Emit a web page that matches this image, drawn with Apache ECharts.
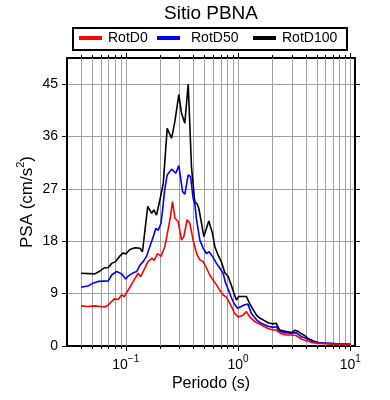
<!DOCTYPE html>
<html><head><meta charset="utf-8">
<script src="https://cdn.jsdelivr.net/npm/echarts@6/dist/echarts.min.js"></script>
<style>html,body{margin:0;padding:0;background:#fff}#c{width:390px;height:400px}</style>
</head><body><div id="c"></div>
<script>
const seriesNames = ['RotD0', 'RotD50', 'RotD100'];
const seriesColors = ['#ff0000', '#0000ff', '#000000'];

const rotD0Periods = [0.040,0.046,0.053,0.059,0.065,0.070,0.079,0.086,0.092,0.097,0.102,0.109,0.119,0.129,0.136,0.148,0.158,0.172,0.179,0.192,0.206,0.223,0.235,0.249,0.261,0.274,0.293,0.314,0.329,0.352,0.372,0.398,0.427,0.457,0.489,0.524,0.560,0.600,0.643,0.687,0.736,0.789,0.815,0.873,0.934,1.0,1.107,1.188,1.27,1.41,1.61,1.85,2.05,2.19,2.43,2.69,2.98,3.30,3.66,3.92,4.06,4.64,5.30,7.0,8.6,10.0];
const rotD0Values = [6.9,6.8,6.9,6.8,6.7,7.05,8.1,8.0,8.8,8.5,9.2,10.1,11.35,12.5,11.9,13.4,14.5,15.1,14.7,15.9,15.4,17.1,19.4,22.0,24.8,22.0,21.4,18.2,18.8,21.7,21.1,18.2,15.9,14.8,14.5,13.4,12.2,11.35,10.5,9.6,8.8,8.4,7.9,6.8,5.6,5.0,5.3,5.9,5.0,4.2,3.6,3.0,2.75,2.75,2.1,1.9,1.9,1.8,1.2,1.0,0.9,0.57,0.45,0.35,0.3,0.28];

const rotD50Periods = [0.040,0.046,0.051,0.057,0.070,0.075,0.083,0.092,0.100,0.105,0.117,0.125,0.134,0.143,0.153,0.164,0.176,0.185,0.195,0.206,0.213,0.222,0.234,0.256,0.279,0.297,0.321,0.336,0.360,0.378,0.398,0.412,0.427,0.457,0.489,0.524,0.552,0.592,0.643,0.687,0.736,0.770,0.815,0.873,0.921,0.990,1.147,1.227,1.315,1.46,1.61,1.85,2.05,2.19,2.35,2.60,2.98,3.30,3.66,3.92,4.06,4.64,5.32,7.0,8.6,10.0];
const rotD50Values = [10.1,10.3,10.8,11.1,11.2,12.2,12.8,12.4,11.5,12.0,12.6,12.8,13.9,14.5,15.4,17.1,18.8,20.2,19.9,21.1,23.4,26.8,29.4,30.4,29.7,31.0,26.5,26.1,29.4,29.1,25.4,24.5,21.7,18.2,16.8,15.9,16.2,15.4,14.2,13.4,12.5,11.0,9.8,8.3,7.3,6.5,7.1,7.2,5.6,4.5,3.9,3.4,3.2,3.3,2.5,2.3,2.2,2.3,1.6,1.4,1.15,0.75,0.57,0.4,0.33,0.3];

const rotD100Periods = [0.040,0.053,0.059,0.064,0.070,0.075,0.081,0.089,0.095,0.100,0.109,0.121,0.134,0.141,0.157,0.170,0.178,0.188,0.201,0.216,0.234,0.256,0.274,0.297,0.314,0.336,0.360,0.385,0.412,0.432,0.447,0.473,0.496,0.549,0.592,0.621,0.664,0.711,0.762,0.815,0.873,0.934,0.968,1.014,1.188,1.27,1.36,1.46,1.56,1.67,1.85,2.05,2.19,2.35,2.51,2.69,2.98,3.19,3.41,3.66,3.92,4.19,4.64,5.14,5.70,7.0,8.6,10.0];
const rotD100Values = [12.5,12.4,12.9,13.4,13.5,14.2,14.5,15.5,16.0,15.8,16.6,16.9,16.8,16.2,24.0,22.8,23.4,22.5,25.0,28.0,37.4,35.7,38.6,43.2,40.0,38.3,45.0,30.8,24.8,24.4,23.7,21.1,18.8,21.5,19.4,17.1,15.6,14.5,12.6,12.0,10.4,8.7,7.9,8.5,8.5,7.3,6.3,5.3,4.8,4.5,4.0,3.8,3.9,2.75,2.6,2.5,2.3,2.7,2.55,2.1,1.8,1.3,0.9,0.6,0.46,0.4,0.34,0.3];

const yTicks = [0, 9, 18, 27, 36, 45];
const xGridPeriods = [0.04,0.05,0.06,0.07,0.08,0.09,0.1,0.2,0.3,0.4,0.5,0.6,0.7,0.8,0.9,1,2,3,4,5,6,7,8,9,10];
const xMajorPeriods = [0.1, 1, 10];

const FONT = 'Liberation Sans, Arial, Helvetica, sans-serif';
const zip = (a, b) => a.map((v, i) => [v, b[i]]);

const chart = echarts.init(document.getElementById('c'), null, {renderer: 'canvas'});

function legendFor(i, left, extraPad) {
  return {
    data: [seriesNames[i]], left: left, top: 31, padding: 0,
    icon: 'rect', itemWidth: 23, itemHeight: 4, selectedMode: false,
    textStyle: {fontFamily: FONT, fontSize: 14, color: '#000', padding: [0, 0, 0, extraPad]}
  };
}

const option = {
  animation: false,
  backgroundColor: '#fff',
  title: {
    text: 'Sitio PBNA', left: 164, top: 4, padding: 0,
    textStyle: {fontFamily: FONT, fontSize: 19, fontWeight: 'normal', color: '#000'}
  },
  graphic: [{
    type: 'rect', shape: {x: 73, y: 28, width: 274, height: 22},
    style: {fill: 'none', stroke: '#000', lineWidth: 2}, z: 10
  }],
  legend: [legendFor(0, 79, 1), legendFor(1, 157, 6), legendFor(2, 253, 1)],
  grid: {left: 67, right: 35, top: 58, bottom: 54, containLabel: false},
  xAxis: [{
    type: 'log', logBase: 10, min: 0.03, max: 11, position: 'bottom',
    name: 'Periodo (s)', nameLocation: 'middle', nameGap: 30, nameMoveOverlap: false,
    nameTextStyle: {fontFamily: FONT, fontSize: 16, color: '#000'},
    axisLine: {show: true, onZero: false, lineStyle: {color: '#000', width: 2}},
    axisTick: {show: false},
    splitLine: {show: false},
    axisLabel: {
      showMinLabel: false, showMaxLabel: false, margin: 8,
      fontFamily: FONT, fontSize: 14, color: '#000', lineHeight: 22,
      formatter: function (v) {
        const e = Math.round(Math.log10(v));
        return '10{s|' + (e < 0 ? '\u2212' + (-e) : e) + '}';
      },
      rich: {s: {fontFamily: FONT, fontSize: 10, color: '#000', verticalAlign: 'top', lineHeight: 22}}
    }
  }, {
    type: 'log', logBase: 10, min: 0.03, max: 11, position: 'top',
    axisLine: {show: true, onZero: false, lineStyle: {color: '#000', width: 2}},
    axisTick: {show: false}, axisLabel: {show: false}, splitLine: {show: false}
  }],
  yAxis: [{
    type: 'value', min: 0, max: 49.5, interval: 9, position: 'left',
    name: 'PSA (cm/s{s|2})', nameLocation: 'middle', nameGap: 28, nameMoveOverlap: false,
    nameTextStyle: {fontFamily: FONT, fontSize: 17, color: '#000', lineHeight: 24,
      rich: {s: {fontFamily: FONT, fontSize: 11, color: '#000', verticalAlign: 'top', lineHeight: 24}}},
    axisLine: {show: true, onZero: false, lineStyle: {color: '#000', width: 2}},
    axisTick: {show: true, inside: false, length: 5, customValues: yTicks, lineStyle: {color: '#000'}},
    axisLabel: {customValues: yTicks, margin: 9, fontFamily: FONT, fontSize: 14, color: '#000'},
    splitLine: {show: true, lineStyle: {color: '#a0a0a0', width: 1}}
  }, {
    type: 'value', min: 0, max: 49.5, interval: 9, position: 'right',
    axisLine: {show: true, onZero: false, lineStyle: {color: '#000', width: 2}},
    axisTick: {show: true, inside: false, length: 5, customValues: yTicks, lineStyle: {color: '#000'}},
    axisLabel: {show: false}, splitLine: {show: false}
  }],
  series: [
    {
      type: 'custom', name: 'xgrid', silent: true, clip: false, z: 1,
      xAxisIndex: 0, yAxisIndex: 0,
      data: xGridPeriods.map(p => [p, 0, xMajorPeriods.indexOf(p) >= 0 ? 1 : 0]),
      encode: {x: 0, y: 1},
      renderItem: function (params, api) {
        const cs = params.coordSys;
        const x = Math.round(api.coord([api.value(0), 0])[0]) + 0.5;
        const len = api.value(2) === 1 ? 5 : 3;
        const top = cs.y, bot = cs.y + cs.height;
        return {type: 'group', children: [
          {type: 'line', shape: {x1: x, y1: top, x2: x, y2: bot}, style: {stroke: '#a0a0a0', lineWidth: 1}},
          {type: 'line', shape: {x1: x, y1: bot, x2: x, y2: bot + len}, style: {stroke: '#000', lineWidth: 1}},
          {type: 'line', shape: {x1: x, y1: top, x2: x, y2: top - len}, style: {stroke: '#000', lineWidth: 1}}
        ]};
      }
    },
    {name: 'RotD100', type: 'line', data: zip(rotD100Periods, rotD100Values), showSymbol: false, symbol: 'none',
     lineStyle: {color: seriesColors[2], width: 1.6}, itemStyle: {color: seriesColors[2]}, z: 3},
    {name: 'RotD50', type: 'line', data: zip(rotD50Periods, rotD50Values), showSymbol: false, symbol: 'none',
     lineStyle: {color: seriesColors[1], width: 1.6}, itemStyle: {color: seriesColors[1]}, z: 4},
    {name: 'RotD0', type: 'line', data: zip(rotD0Periods, rotD0Values), showSymbol: false, symbol: 'none',
     lineStyle: {color: seriesColors[0], width: 1.6}, itemStyle: {color: seriesColors[0]}, z: 5}
  ]
};
chart.setOption(option);
</script>
</body></html>
